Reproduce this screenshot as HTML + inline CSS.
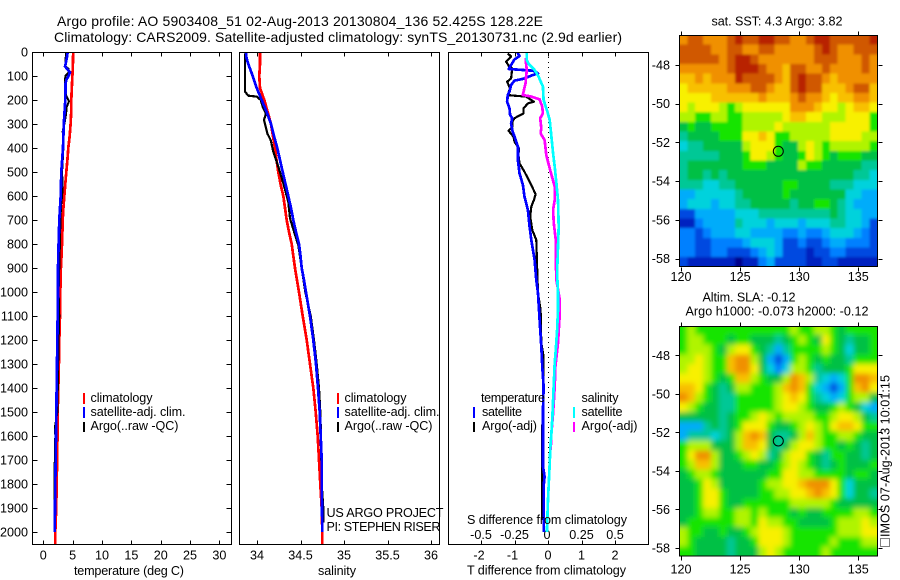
<!DOCTYPE html>
<html lang="en">
<head>
<meta charset="utf-8">
<title>Argo profile 5903408_51</title>
<style>
html,body{margin:0;padding:0;background:#fff;}
svg{display:block;}
text{font-family:"Liberation Sans",sans-serif;font-size:12.6px;fill:#000;}
.crisp{shape-rendering:crispEdges;}
</style>
</head>
<body>
<svg id="chart" xmlns="http://www.w3.org/2000/svg" width="900" height="580" viewBox="0 0 900 580">
  <defs>
    <clipPath id="clip-p1"><rect x="32" y="52" width="200" height="493"/></clipPath>
    <clipPath id="clip-p2"><rect x="239" y="52" width="201" height="493"/></clipPath>
    <clipPath id="clip-p3"><rect x="448" y="52" width="201" height="493"/></clipPath>
    <clipPath id="clip-m1"><rect x="679" y="35" width="198" height="232"/></clipPath>
    <clipPath id="clip-m2"><rect x="679" y="326" width="198" height="230"/></clipPath>
    <filter id="soft1" filterUnits="userSpaceOnUse" x="660" y="15" width="240" height="270"><feGaussianBlur stdDeviation="1.2"/></filter>
    <filter id="soft2" filterUnits="userSpaceOnUse" x="660" y="305" width="240" height="270"><feGaussianBlur stdDeviation="2.6"/></filter>
  </defs>

  <text x="57" y="26" style="font-size:14px" textLength="486">Argo profile: AO 5903408_51 02-Aug-2013 20130804_136 52.425S 128.22E</text>
  <text x="54" y="42" style="font-size:14px" textLength="568">Climatology: CARS2009. Satellite-adjusted climatology: synTS_20130731.nc (2.9d earlier)</text>

  <g id="map1-cells-clip" clip-path="url(#clip-m1)"><g id="map1-cells" filter="url(#soft1)" class="crisp"></g></g>
  <g id="map2-cells-clip" clip-path="url(#clip-m2)"><g id="map2-cells" filter="url(#soft2)" class="crisp"></g></g>

  <g id="axes" class="crisp"></g>
  <g id="labels"></g>

  <g clip-path="url(#clip-p1)" id="series-p1"></g>
  <g clip-path="url(#clip-p2)" id="series-p2"></g>
  <g clip-path="url(#clip-p3)" id="series-p3"></g>

  <rect class="crisp" x="32.5" y="52.5" width="199" height="492" fill="none" stroke="#000"/>
  <rect class="crisp" x="239.5" y="52.5" width="200" height="492" fill="none" stroke="#000"/>
  <rect class="crisp" x="448.5" y="52.5" width="200" height="492" fill="none" stroke="#000"/>
  <rect class="crisp" x="679.5" y="35.5" width="198" height="231" fill="none" stroke="#000"/>
  <rect class="crisp" x="679.5" y="326.5" width="198" height="229.5" fill="none" stroke="#000"/>

  <text x="74" y="575" textLength="110">temperature (deg C)</text>
  <text x="318" y="575" textLength="38">salinity</text>
  <text x="467" y="524" textLength="160">S difference from climatology</text>
  <text x="467" y="574.5" textLength="159">T difference from climatology</text>

  <g>
    <rect class="crisp" x="83" y="393" width="2" height="11" fill="#f00"/>
    <text x="90.5" y="402" textLength="62">climatology</text>
    <rect class="crisp" x="83" y="407" width="2" height="11" fill="#00f"/>
    <text x="90.5" y="416" textLength="95">satellite-adj. clim.</text>
    <rect class="crisp" x="83" y="422" width="2" height="10" fill="#000"/>
    <text x="90.5" y="430" textLength="88">Argo(..raw -QC)</text>
  </g>
  <g>
    <rect class="crisp" x="337" y="393" width="2" height="11" fill="#f00"/>
    <text x="344.5" y="402" textLength="62">climatology</text>
    <rect class="crisp" x="337" y="407" width="2" height="11" fill="#00f"/>
    <text x="344.5" y="416" textLength="95">satellite-adj. clim.</text>
    <rect class="crisp" x="337" y="422" width="2" height="10" fill="#000"/>
    <text x="344.5" y="430" textLength="88">Argo(..raw -QC)</text>
  </g>
  <text x="326.5" y="517" textLength="117">US ARGO PROJECT</text>
  <text x="326.5" y="531" textLength="114">PI: STEPHEN RISER</text>

  <g>
    <text x="481" y="402" textLength="64">temperature</text>
    <rect class="crisp" x="473" y="407" width="2" height="11" fill="#00f"/>
    <text x="482" y="416" textLength="40">satellite</text>
    <rect class="crisp" x="473" y="422" width="2" height="10" fill="#000"/>
    <text x="482" y="430" textLength="55">Argo(-adj)</text>
    <text x="581.5" y="402" textLength="37">salinity</text>
    <rect class="crisp" x="573" y="407" width="2" height="11" fill="#0ff"/>
    <text x="581.5" y="416" textLength="41">satellite</text>
    <rect class="crisp" x="573" y="422" width="2" height="10" fill="#f0f"/>
    <text x="581.5" y="430" textLength="56">Argo(-adj)</text>
  </g>

  <text x="711.5" y="25.5" textLength="131">sat. SST: 4.3 Argo: 3.82</text>
  <text x="702.5" y="301.5" textLength="93">Altim. SLA: -0.12</text>
  <text x="685.5" y="315.5" textLength="183">Argo h1000: -0.073 h2000: -0.12</text>

  <circle cx="778.3" cy="151.3" r="5" fill="none" stroke="#000"/>
  <circle cx="778.3" cy="441" r="5" fill="none" stroke="#000"/>

  <rect class="crisp" x="880.5" y="538.5" width="9" height="8" fill="none" stroke="#000" stroke-dasharray="1 1"/>
  <text transform="translate(889.5 537) rotate(-90)" textLength="162">IMOS 07-Aug-2013 10:01:15</text>
</svg>

<script>
// ---------- chart data ----------
const depthTicks = [0,100,200,300,400,500,600,700,800,900,1000,1100,1200,1300,1400,1500,1600,1700,1800,1900,2000];
const tempTicks = [0,5,10,15,20,25,30];
const salTicks = [34,34.5,35,35.5,36];
const salTickText = ["34","34.5","35","35.5","36"];
const tDiffTicks = [-2,-1,0,1,2];
const sDiffTicks = [-0.5,-0.25,0,0.25,0.5];
const sDiffTickText = ["-0.5","-0.25","0","0.25","0.5"];
const lonTicks = [120,125,130,135];
const latTicks = [-48,-50,-52,-54,-56,-58];

const climDepths = [0,50,100,150,200,250,300,350,400,450,500,550,600,650,700,750,800,850,900,950,1000,1100,1200,1300,1400,1500,1600,1700,1800,1900,2000,2052];
const tempClim = [5.1,5.05,4.95,4.85,4.77,4.75,4.65,4.5,4.26,4.1,3.92,3.75,3.58,3.42,3.3,3.25,3.19,3.1,3.0,2.95,2.9,2.85,2.72,2.65,2.55,2.45,2.42,2.35,2.28,2.2,2.05,2.02];
const salClim = [34.034,34.034,34.026,34.034,34.084,34.123,34.161,34.184,34.207,34.224,34.245,34.27,34.302,34.322,34.341,34.368,34.399,34.417,34.437,34.46,34.483,34.525,34.571,34.609,34.647,34.675,34.698,34.713,34.728,34.744,34.751,34.751];

const tempSatDepths = [0,25,50,60,75,85,100,115,130,200,300,400,500,600,700,800,900,1000,1300,1600,1800,2000];
const tempSat = [4.15,4.0,3.8,3.7,4.2,4.55,4.3,3.95,3.8,3.75,3.5,3.36,3.07,2.96,2.73,2.6,2.5,2.5,2.33,2.17,2.05,1.94];

const tempArgoDepths = [0,60,70,85,100,140,180,205,230,260,300,330,400,500,570,650,730,900,1000,1100,1200,1500,1560,1600,1800,2000];
const tempArgo = [3.87,3.75,4.3,4.35,3.75,3.7,3.87,4.38,3.98,3.87,3.6,3.3,3.42,3.2,3.3,3.0,2.9,2.73,2.6,2.73,2.6,2.4,2.0,2.05,1.88,1.9];

const salSatDepths = [0,25,50,75,100,150,200,250,300,350,400,450,500,550,600,650,700,750,800,850,900,950,1000,1100,1200,1300,1400,1500,1600,1700,1800,1900,2000];
const salSat = [33.874,33.879,33.9,33.925,33.951,33.997,34.054,34.111,34.161,34.195,34.233,34.264,34.295,34.328,34.36,34.391,34.417,34.448,34.483,34.5,34.514,34.54,34.563,34.609,34.647,34.678,34.701,34.721,34.732,34.744,34.744,34.747,34.751];

const salArgoDepths = [0,12,165,182,186,200,228,256,283,339,367,415,478,547,624,693,762,804,900,1000,1100,1200,1300,1400,1500,1600,1800,1900,1960];
const salArgo = [33.87,33.862,33.862,33.9,33.997,34.043,34.066,34.103,34.08,34.118,34.157,34.187,34.245,34.302,34.36,34.379,34.437,34.475,34.514,34.555,34.617,34.655,34.686,34.713,34.728,34.736,34.744,34.762,34.762];

const tDiffSatDepths = [0,17,31,54,71,78,89,96,112,119,137,165,179,207,235,262,276,297,325,353,394,450,505,554,603,658,728,783,867,950,1005,1116,1227,1311,1394,1491,1727,1769,1811,2000];
const tDiffSat = [-0.92,-0.85,-1.0,-1.1,-1.17,-0.45,-0.3,-0.45,-0.75,-1.0,-1.1,-1.15,-1.2,-1.22,-1.15,-1.13,-1.07,-1.1,-1.07,-1.0,-0.9,-0.9,-0.85,-0.75,-0.7,-0.6,-0.55,-0.5,-0.4,-0.35,-0.3,-0.25,-0.2,-0.17,-0.13,-0.15,-0.15,-0.1,-0.13,-0.13];

const tDiffArgoDepths = [6,19,40,58,68,110,124,151,179,182,186,207,214,235,256,276,290,314,328,353,374,401,429,464,499,540,592,617,644,686,742,783,867,922,1005,1075,1213,1269,1366,1561,1908,1950];
const tDiffArgo = [-1.2,-1.1,-1.25,-1.17,-1.07,-1.1,-1.22,-1.13,-1.2,-1.0,-0.65,-0.42,-0.6,-0.73,-0.73,-1.0,-1.07,-1.07,-1.18,-1.03,-1.0,-0.87,-0.88,-0.85,-0.7,-0.55,-0.37,-0.42,-0.5,-0.53,-0.47,-0.35,-0.33,-0.32,-0.3,-0.22,-0.2,-0.13,-0.13,-0.17,-0.17,-0.17];

const sDiffSatDepths = [0,33,50,75,103,144,200,242,283,353,422,478,547,617,728,811,922,1005,1075,1158,1241,1297,1380,1519,1589,1644,1714,1769,1866,2000];
const sDiffSat = [-0.158,-0.158,-0.143,-0.1,-0.07,-0.038,-0.033,-0.008,0.013,0.025,0.038,0.05,0.063,0.075,0.08,0.075,0.068,0.075,0.075,0.068,0.058,0.05,0.043,0.033,0.025,0.018,0.013,0.008,0,-0.008];

const sDiffArgoDepths = [26,75,131,179,186,197,228,256,276,318,339,367,429,485,561,617,658,714,783,867,950,1033,1089,1213,1311,1394,1505,1589,1658];
const sDiffArgo = [-0.168,-0.158,-0.168,-0.188,-0.125,-0.063,-0.043,-0.038,-0.058,-0.05,-0.055,-0.025,-0.013,0.013,0.05,0.05,0.038,0.043,0.058,0.058,0.063,0.088,0.088,0.075,0.055,0.05,0.038,0.025,0.02];

// heatmap levels on a common 0 (dark blue) to 14 (dark red) colour scale
const sstLevels = [
[12,13,13,12,12,12,13,14,13,13,14,14,13,13,12,12,13,14,14,13,13,13,13,13,14],
[13,13,13,13,12,12,13,13,12,12,13,13,12,12,12,12,12,13,14,13,12,12,13,13,13],
[13,13,13,13,13,12,13,14,14,13,12,12,12,12,12,12,12,13,13,13,12,12,12,13,12],
[12,12,12,12,12,12,13,14,14,14,13,12,12,11,13,13,12,12,13,12,12,12,12,13,12],
[11,11,12,11,12,12,12,14,13,13,13,13,12,11,13,14,13,13,12,11,12,12,12,12,12],
[10,11,11,11,11,11,12,12,12,13,13,12,11,11,13,14,13,13,11,11,11,12,13,13,11],
[10,10,10,10,11,11,11,11,11,11,12,11,11,11,12,13,12,12,11,10,11,11,12,12,11],
[10,9,10,10,10,9,8,9,10,10,10,10,10,10,12,12,12,11,10,10,9,10,11,11,10],
[9,9,8,8,9,9,8,8,9,9,9,9,9,10,11,11,10,10,9,9,9,10,10,10,8],
[7,8,7,7,8,8,8,8,9,9,9,9,10,9,9,9,9,9,9,10,10,10,10,10,8],
[6,7,7,7,7,8,8,8,10,10,11,10,8,8,9,9,9,9,9,10,10,10,10,9,9],
[5,6,6,7,7,7,7,7,9,10,10,10,8,7,7,9,10,9,8,9,9,9,9,9,8],
[6,6,6,6,6,7,7,7,8,10,10,9,8,7,7,8,10,9,8,7,8,8,8,7,7],
[6,7,7,7,7,7,7,7,8,8,8,7,7,7,7,9,8,8,7,7,7,7,7,6,6],
[6,7,7,6,7,6,7,7,7,7,7,7,7,7,7,7,7,7,7,7,7,7,6,6,5],
[6,6,6,5,5,6,6,7,7,7,7,7,7,8,8,7,7,7,7,6,6,6,5,5,5],
[4,4,5,5,5,5,5,6,7,7,7,7,7,8,7,7,7,7,7,7,7,5,5,4,4],
[4,5,5,5,4,5,5,6,6,7,7,7,7,7,6,7,7,8,8,7,6,5,4,4,4],
[2,2,4,4,4,4,4,5,5,5,6,6,6,6,6,6,6,6,6,7,6,5,5,4,4],
[1,1,3,4,4,4,4,6,5,5,5,4,5,5,5,4,5,5,5,6,6,5,5,4,2],
[3,3,2,3,4,4,4,5,5,4,4,4,4,3,3,4,3,3,4,5,5,5,4,3,2],
[3,3,2,2,3,3,3,3,4,5,5,5,4,2,2,3,2,2,3,4,4,3,3,3,2],
[3,3,2,2,3,3,2,2,2,3,4,5,4,2,2,2,1,2,2,3,3,2,2,2,2],
[2,1,1,1,1,1,1,0,1,1,3,4,2,2,2,2,1,1,2,2,1,1,1,1,1]
];
const slaLevels = [
[8,9,8,8,8,8,8,8,8,8,8,8,8,8,9,8,8,9,9,8,7,8,8,8,8],
[8,9,9,8,8,8,7,8,8,7,7,7,6,7,8,9,8,7,10,8,7,6,7,7,8],
[8,9,9,9,8,7,9,10,10,8,7,6,4,6,8,8,8,8,9,8,7,5,7,7,8],
[9,9,10,9,8,8,11,12,12,9,7,4,2,4,8,9,8,7,8,7,7,6,8,8,8],
[9,10,10,9,8,8,11,12,12,10,7,5,3,5,9,9,8,6,7,7,7,8,10,10,10],
[10,10,10,9,8,7,8,11,11,9,8,7,7,9,12,11,9,6,5,4,5,8,12,12,11],
[11,11,10,8,7,6,7,9,9,8,8,8,9,11,12,11,8,5,4,2,4,8,11,12,10],
[12,11,9,8,7,6,6,8,8,8,8,8,9,10,11,10,8,6,5,4,5,8,9,9,7],
[10,9,8,7,7,6,6,8,8,8,8,8,9,10,10,9,8,7,7,8,9,8,7,5,4],
[7,7,7,7,7,6,7,8,8,9,10,9,8,9,9,9,9,8,8,9,10,10,9,7,6],
[4,4,4,6,7,6,7,8,10,10,10,8,7,7,8,9,10,9,8,10,11,11,10,8,8],
[4,6,6,6,5,6,7,9,11,12,11,7,6,6,7,9,11,9,8,8,9,9,8,7,7],
[8,9,9,9,7,7,7,9,11,11,10,7,6,7,9,10,10,9,8,8,7,8,7,6,7],
[8,10,12,12,9,7,7,8,9,10,9,6,7,9,10,10,8,7,6,8,8,7,7,6,7],
[8,9,11,11,9,7,7,7,8,8,7,7,8,9,10,9,8,7,6,7,8,7,7,7,8],
[7,8,9,9,8,7,7,7,7,7,7,8,8,10,10,9,9,8,8,8,8,7,8,8,7],
[7,7,8,10,9,7,7,7,7,7,8,9,9,10,10,11,12,12,12,10,8,5,7,7,7],
[7,7,8,10,10,8,7,7,7,7,8,8,9,9,10,10,11,12,11,10,8,5,7,7,6],
[7,7,8,10,10,8,7,7,8,8,8,8,8,8,9,9,9,9,9,8,7,7,7,7,7],
[7,7,8,9,9,8,8,9,9,8,9,8,8,8,7,8,7,7,8,8,8,8,9,9,8],
[7,8,8,8,8,8,8,9,9,8,10,9,9,8,8,7,7,7,7,8,9,9,9,10,9],
[9,8,8,7,7,8,7,7,8,9,10,10,10,9,8,8,8,8,8,8,9,9,9,10,10],
[9,8,7,7,7,7,6,7,7,8,10,10,10,9,8,8,8,8,8,9,8,8,8,9,9],
[8,8,7,7,7,7,6,7,7,7,9,10,9,8,8,8,8,8,9,8,8,8,8,8,8]
];

// ---------- axis functions ----------
const SVGNS = "http://www.w3.org/2000/svg";
function yDepth(p){ return 52 + 0.24 * p; }
function xTemp(v){ return 43.3 + 5.87 * v; }
function xSal(v){ return 257 + 87 * (v - 34); }
function xTDiff(v){ return 548 + 33.5 * v; }
function xSDiff(v){ return 548 + 134 * v; }
function xLon(v){ return 681 + 11.82 * (v - 120); }
function ySst(v){ return 65 + 19.37 * (-48 - v); }
function ySla(v){ return 355.3 + 19.27 * (-48 - v); }

// colour scale (style, indexed by level)
const palette = ["#00008c","#0020c0","#0048e0","#0080ff","#00acfa","#00d2dc","#00c896","#00c044","#18e400","#b0f400","#f8f000","#f8c000","#f09000","#d05800","#b82000"];

const axesG = document.getElementById("axes");
const labelsG = document.getElementById("labels");

function seg(x1, y1, x2, y2){
  const el = document.createElementNS(SVGNS, "line");
  el.setAttribute("x1", Math.round(x1) + 0.5);
  el.setAttribute("y1", Math.round(y1) + 0.5);
  el.setAttribute("x2", Math.round(x2) + 0.5);
  el.setAttribute("y2", Math.round(y2) + 0.5);
  el.setAttribute("stroke", "#000");
  
  
  axesG.appendChild(el);
}
function label(str, x, y, anchor){
  const el = document.createElementNS(SVGNS, "text");
  el.setAttribute("x", x);
  el.setAttribute("y", y);
  el.setAttribute("text-anchor", anchor);
  el.textContent = str;
  
  
  labelsG.appendChild(el);
}
function xTicksInward(values, fx){
  values.forEach(function(v){
    const x = fx(v);
    seg(x, 52, x, 56);
    seg(x, 544, x, 540);
  });
}
function drawSeries(groupId, name, depths, values, fx, colour, width){
  const pts = depths.map(function(d, i){ return fx(values[i]).toFixed(1) + "," + yDepth(d).toFixed(1); });
  const el = document.createElementNS(SVGNS, "polyline");
  el.setAttribute("points", pts.join(" "));
  el.setAttribute("fill", "none");
  el.setAttribute("stroke", colour);
  el.setAttribute("stroke-width", width);
  el.setAttribute("stroke-linejoin", "round");
  el.setAttribute("class", "crisp");
  
  
  document.getElementById(groupId).appendChild(el);
}
function drawHeat(groupId, name, levels, fy){
  const lonLeft = 119.86, lonStep = 0.67, latTop = -46.45, latStep = 0.4985;
  const g = document.getElementById(groupId);
  levels.forEach(function(row, r){
    row.forEach(function(level, c){
      let x0 = xLon(lonLeft + c * lonStep), x1 = xLon(lonLeft + (c + 1) * lonStep);
      let y0 = fy(latTop - r * latStep), y1 = fy(latTop - (r + 1) * latStep);
      if (c === 0) x0 -= 10;
      if (c === row.length - 1) x1 += 10;
      if (r === 0) y0 -= 10;
      if (r === levels.length - 1) y1 += 10;
      const el = document.createElementNS(SVGNS, "rect");
      el.setAttribute("x", x0.toFixed(2));
      el.setAttribute("y", y0.toFixed(2));
      el.setAttribute("width", (x1 - x0 + 0.4).toFixed(2));
      el.setAttribute("height", (y1 - y0 + 0.4).toFixed(2));
      el.setAttribute("fill", palette[level]);
      
      
      g.appendChild(el);
    });
  });
}

// ---------- depth axis (temperature panel) ----------
depthTicks.forEach(function(d){
  const y = yDepth(d);
  seg(32, y, 37, y);
  seg(231, y, 226, y);
  label(String(d), 28, y + 4.5, "end");
});

// ---------- bottom axes of profile panels ----------
xTicksInward(tempTicks, xTemp);
tempTicks.forEach(function(v){ label(String(v), xTemp(v), 559.5, "middle"); });
xTicksInward(salTicks, xSal);
salTicks.forEach(function(v, i){ label(salTickText[i], xSal(v), 559.5, "middle"); });
xTicksInward(tDiffTicks, xTDiff);
tDiffTicks.forEach(function(v){ label(String(v), xTDiff(v) - (v < 0 ? 2 : 0), 559.5, "middle"); });
sDiffTicks.forEach(function(v, i){ label(sDiffTickText[i], xSDiff(v) + (v === 0 ? -1 : 0), 539, "middle"); });

// zero reference line in the difference panel
const zeroLine = document.createElementNS(SVGNS, "line");
zeroLine.setAttribute("x1", xTDiff(0) + 0.5);
zeroLine.setAttribute("x2", xTDiff(0) + 0.5);
zeroLine.setAttribute("y1", yDepth(0));
zeroLine.setAttribute("y2", yDepth(1800));
zeroLine.setAttribute("stroke", "#000");
zeroLine.setAttribute("stroke-dasharray", "1 4");
zeroLine.setAttribute("class", "crisp");


document.getElementById("series-p3").appendChild(zeroLine);

// ---------- map axes ----------
lonTicks.forEach(function(v){
  const x = xLon(v);
  seg(x, 31, x, 35);
  seg(x, 267, x, 271);
  label(String(v), x, 281, "middle");
  seg(x, 322, x, 326);
  seg(x, 556, x, 560);
  label(String(v), x, 573.5, "middle");
});
latTicks.forEach(function(v){
  const y1 = ySst(v), y2 = ySla(v);
  seg(675, y1, 679, y1);
  seg(878, y1, 882, y1);
  label(String(v), 670, y1 + 4.5, "end");
  seg(675, y2, 679, y2);
  seg(878, y2, 882, y2);
  label(String(v), 670, y2 + 4.5, "end");
});

// ---------- heatmaps ----------
drawHeat("map1-cells", "sst-cell", sstLevels, ySst);
drawHeat("map2-cells", "sla-cell", slaLevels, ySla);

// ---------- profile series ----------
drawSeries("series-p1", "temperature-climatology-line", climDepths, tempClim, xTemp, "#f00", 2.7);
drawSeries("series-p1", "temperature-argo-line", tempArgoDepths, tempArgo, xTemp, "#000", 2);
drawSeries("series-p1", "temperature-satellite-line", tempSatDepths, tempSat, xTemp, "#00f", 2.7);

drawSeries("series-p2", "salinity-climatology-line", climDepths, salClim, xSal, "#f00", 2.7);
drawSeries("series-p2", "salinity-argo-line", salArgoDepths, salArgo, xSal, "#000", 2.2);
drawSeries("series-p2", "salinity-satellite-line", salSatDepths, salSat, xSal, "#00f", 2.7);

drawSeries("series-p3", "t-diff-argo-line", tDiffArgoDepths, tDiffArgo, xTDiff, "#000", 2.2);
drawSeries("series-p3", "t-diff-satellite-line", tDiffSatDepths, tDiffSat, xTDiff, "#00f", 2.7);
drawSeries("series-p3", "s-diff-argo-line", sDiffArgoDepths, sDiffArgo, xSDiff, "#f0f", 2.7);
drawSeries("series-p3", "s-diff-satellite-line", sDiffSatDepths, sDiffSat, xSDiff, "#0ff", 2.7);
</script>
</body>
</html>
